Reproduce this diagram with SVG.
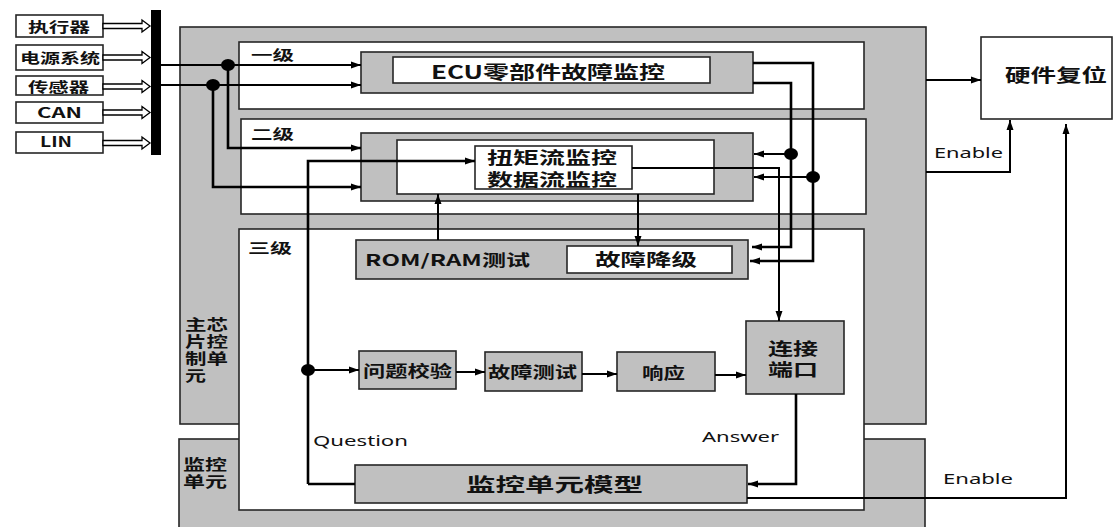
<svg xmlns="http://www.w3.org/2000/svg" width="1114" height="527" viewBox="0 0 1114 527">
<style>
.g{fill:#c0c0c0;stroke:#262626;stroke-width:1.6}
.w{fill:#fff;stroke:#262626;stroke-width:1.6}
.cn{font-family:"Noto Sans CJK SC","Noto Sans",sans-serif;font-weight:bold;fill:#111}
.en{font-family:"Noto Sans","Open Sans",sans-serif;fill:#111;font-size:15px}
.ln{fill:none;stroke:#000;stroke-width:2}
.lt{fill:none;stroke:#000;stroke-width:2.6}
.ha{fill:#fff;stroke:#000;stroke-width:1.3}
</style>
<defs>
<marker id="ar" markerUnits="userSpaceOnUse" markerWidth="11" markerHeight="8" refX="10" refY="4" orient="auto">
<path d="M0,0.5 L10,4 L0,7.5 z" fill="#000"/>
</marker>
</defs>

<g id="inputs">
<g id="in1"><rect class="w" x="16" y="15" width="87" height="22"/><text class="cn" x="28" y="32" font-size="14" textLength="62" lengthAdjust="spacingAndGlyphs">执行器</text></g>
<g id="in2"><rect class="w" x="16" y="45" width="87" height="25"/><text class="cn" x="20" y="63" font-size="14" textLength="80" lengthAdjust="spacingAndGlyphs">电源系统</text></g>
<g id="in3"><rect class="w" x="16" y="76" width="87" height="19"/><text class="cn" x="28" y="92" font-size="14" textLength="61" lengthAdjust="spacingAndGlyphs">传感器</text></g>
<g id="in4"><rect class="w" x="16" y="102" width="87" height="21"/><text class="cn" x="37" y="118" font-size="14" textLength="45" lengthAdjust="spacingAndGlyphs">CAN</text></g>
<g id="in5"><rect class="w" x="16" y="132" width="87" height="21"/><text class="cn" x="40" y="147" font-size="14" textLength="32" lengthAdjust="spacingAndGlyphs">LIN</text></g>
<path class="ha" d="M103,23.5 H142 V20 L150,26 L142,32 V28.5 H103 z"/>
<path class="ha" d="M103,55 H142 V51.5 L150,57.5 L142,63.5 V60 H103 z"/>
<path class="ha" d="M103,84 H142 V80.5 L150,86.5 L142,92.5 V89 H103 z"/>
<path class="ha" d="M103,110 H142 V106.5 L150,112.5 L142,118.5 V115 H103 z"/>
<path class="ha" d="M103,140.5 H142 V137 L150,143 L142,149 V145.5 H103 z"/>
<rect id="bus" x="151" y="10" width="10" height="145" fill="#000"/>
</g>

<g id="main-unit"><rect class="g" x="180" y="27" width="746" height="397" stroke-width="2"/>
<text class="cn" font-size="15"><tspan x="185" y="330" textLength="43" lengthAdjust="spacingAndGlyphs">主芯</tspan><tspan x="185" y="347" textLength="43" lengthAdjust="spacingAndGlyphs">片控</tspan><tspan x="185" y="364" textLength="43" lengthAdjust="spacingAndGlyphs">制单</tspan><tspan x="185" y="381" textLength="21" lengthAdjust="spacingAndGlyphs">元</tspan></text></g>
<g id="monitor-unit"><rect class="g" x="179" y="439" width="746" height="90" stroke-width="2"/>
<text class="cn" font-size="15"><tspan x="183" y="470" textLength="44" lengthAdjust="spacingAndGlyphs">监控</tspan><tspan x="183" y="487" textLength="44" lengthAdjust="spacingAndGlyphs">单元</tspan></text></g>

<g id="level1"><rect class="w" x="239" y="42" width="625" height="67"/><text class="cn" x="251" y="60" font-size="14" textLength="43" lengthAdjust="spacingAndGlyphs">一级</text></g>
<g id="level2"><rect class="w" x="241" y="119" width="625" height="95"/><text class="cn" x="251" y="139" font-size="14" textLength="43" lengthAdjust="spacingAndGlyphs">二级</text></g>
<g id="level3"><rect class="w" x="239" y="229" width="625" height="281"/><text class="cn" x="248" y="253" font-size="14" textLength="44" lengthAdjust="spacingAndGlyphs">三级</text></g>

<g id="ecu"><rect class="g" x="361" y="52" width="392" height="41"/><rect class="w" x="393" y="57" width="317" height="26"/>
<text class="cn" x="431" y="79" font-size="18" textLength="234" lengthAdjust="spacingAndGlyphs">ECU零部件故障监控</text></g>

<g id="flow-monitor"><rect class="g" x="361" y="133" width="392" height="68"/><rect class="w" x="397" y="140" width="317" height="54"/><rect class="w" x="475" y="146" width="157" height="43"/>
<text class="cn" font-size="17"><tspan x="487" y="164" textLength="130" lengthAdjust="spacingAndGlyphs">扭矩流监控</tspan><tspan x="487" y="186" textLength="130" lengthAdjust="spacingAndGlyphs">数据流监控</tspan></text></g>

<g id="rom-ram"><rect class="g" x="356" y="240" width="392" height="39"/>
<text class="cn" x="365" y="266" font-size="16" textLength="165" lengthAdjust="spacingAndGlyphs">ROM/RAM测试</text></g>
<g id="degrade"><rect class="w" x="567" y="246" width="165" height="27"/>
<text class="cn" x="595" y="266" font-size="17" textLength="102" lengthAdjust="spacingAndGlyphs">故障降级</text></g>

<g id="check"><rect class="g" x="359" y="351" width="97" height="38"/><text class="cn" x="363" y="377" font-size="16" textLength="89" lengthAdjust="spacingAndGlyphs">问题校验</text></g>
<g id="fault-test"><rect class="g" x="485" y="352" width="97" height="39"/><text class="cn" x="488" y="378" font-size="16" textLength="89" lengthAdjust="spacingAndGlyphs">故障测试</text></g>
<g id="response"><rect class="g" x="617" y="352" width="98" height="39"/><text class="cn" x="642" y="379" font-size="16" textLength="43" lengthAdjust="spacingAndGlyphs">响应</text></g>
<g id="port"><rect class="g" x="746" y="321" width="98" height="73"/>
<text class="cn" font-size="17"><tspan x="768" y="355" textLength="50" lengthAdjust="spacingAndGlyphs">连接</tspan><tspan x="768" y="376" textLength="50" lengthAdjust="spacingAndGlyphs">端口</tspan></text></g>
<g id="model"><rect class="g" x="355" y="465" width="392" height="38"/>
<text class="cn" x="466" y="492" font-size="19" textLength="177" lengthAdjust="spacingAndGlyphs">监控单元模型</text></g>

<g id="hw-reset"><rect class="w" x="981" y="37" width="131" height="82"/>
<text class="cn" x="1005" y="82" font-size="18" textLength="102" lengthAdjust="spacingAndGlyphs">硬件复位</text></g>

<g id="connectors">
<path class="ln" d="M161,65 H361" marker-end="url(#ar)"/>
<path class="ln" d="M161,85 H361" marker-end="url(#ar)"/>
<path class="lt" d="M228,65 V148 H361" marker-end="url(#ar)"/>
<path class="lt" d="M213,85 V187 H361" marker-end="url(#ar)"/>
<path class="lt" d="M753,63 H813 V261 H750" marker-end="url(#ar)"/>
<path class="lt" d="M753,83 H791 V247 H752" marker-end="url(#ar)"/>
<path class="ln" d="M791,154 H754" marker-end="url(#ar)"/>
<path class="ln" d="M813,177 H754" marker-end="url(#ar)"/>
<path class="ln" d="M632,168 H779 V321" marker-end="url(#ar)"/>
<path class="ln" d="M638,194 V246" marker-end="url(#ar)"/>
<path class="ln" d="M438,240 V194" marker-end="url(#ar)"/>
<path class="lt" d="M308,484 V161 H475" marker-end="url(#ar)"/>
<path class="lt" d="M308,484 H355"/>
<path class="ln" d="M308,370 H359" marker-end="url(#ar)"/>
<path class="ln" d="M456,372 H485" marker-end="url(#ar)"/>
<path class="ln" d="M582,374 H617" marker-end="url(#ar)"/>
<path class="ln" d="M715,375 H746" marker-end="url(#ar)"/>
<path class="lt" d="M796,394 V484 H748" marker-end="url(#ar)"/>
<path class="ln" d="M747,498 H1066 V124" marker-end="url(#ar)"/>
<path class="ln" d="M926,80 H981" marker-end="url(#ar)"/>
<path class="ln" d="M926,172 H1010 V120" marker-end="url(#ar)"/>
<ellipse cx="228" cy="65" rx="7" ry="6"/>
<ellipse cx="213" cy="85" rx="7" ry="6"/>
<ellipse cx="791" cy="154" rx="7" ry="6"/>
<ellipse cx="813" cy="177" rx="7" ry="6"/>
<ellipse cx="308" cy="370" rx="7" ry="6"/>
</g>

<g id="labels">
<text class="en" x="313" y="446" textLength="95" lengthAdjust="spacingAndGlyphs">Question</text>
<text class="en" x="702" y="442" textLength="77" lengthAdjust="spacingAndGlyphs">Answer</text>
<text class="en" x="943" y="484" textLength="70" lengthAdjust="spacingAndGlyphs">Enable</text>
<text class="en" x="934" y="158" textLength="69" lengthAdjust="spacingAndGlyphs">Enable</text>
</g>
</svg>
